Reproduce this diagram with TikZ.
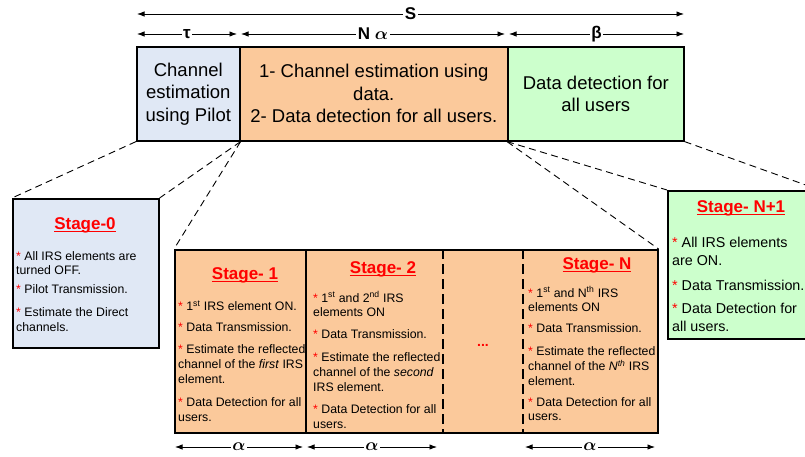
\documentclass[tikz,border=0pt]{standalone}
\usepackage{fontspec}
\setmainfont{Liberation Sans}
\usetikzlibrary{arrows.meta}

\definecolor{pilotblue}{HTML}{E0E8F5}
\definecolor{stageorange}{HTML}{FBC99B}
\definecolor{stagegreen}{HTML}{CCFFCC}
\definecolor{titlered}{HTML}{FF0000}

% red asterisk that opens every bullet
\newcommand\bstar{\textcolor{titlered}{*}}
% stage heading with a low underline
\newcommand\stagehead[1]{\setbox0=\hbox{#1}\rlap{\rule[-3.2pt]{\wd0}{1.3pt}}\box0}
% bold Greek alpha
\newcommand\boldalpha{\mbox{\boldmath$\alpha$}}

\tikzset{
  frame/.style={draw=black, line width=1.6pt, inner sep=0pt, anchor=north west},
  link/.style={dash pattern=on 7pt off 4.5pt, line width=0.9pt},
  span/.style={arrows={Latex[length=7.5pt,width=5.5pt]-Latex[length=7.5pt,width=5.5pt]}, line width=0.9pt},
  dimlabel/.style={fill=white, inner sep=1.5pt, font=\bfseries\fontsize{17}{17}\selectfont},
  alphalabel/.style={fill=white, inner sep=1.5pt, font=\fontsize{18}{18}\selectfont},
  steptitle/.style={anchor=base, inner sep=0pt, text=titlered, font=\bfseries\fontsize{17}{17}\selectfont},
  bodytext/.style={align=left, anchor=north west, inner sep=0pt, font=\fontsize{12.3}{14.7}\selectfont},
  bigbody/.style={align=left, anchor=north west, inner sep=0pt, font=\fontsize{14.3}{18}\selectfont},
  bigtext/.style={align=center, font=\fontsize{18.5}{22.5}\selectfont},
  divider/.style={line width=1.6pt},
  dashdivider/.style={line width=1.7pt, dash pattern=on 10pt off 5pt},
}

\begin{document}
\begin{tikzpicture}[x=1pt, y=-1pt]
\useasboundingbox (0,0) rectangle (805,457);

% ---------- frame of the whole slot ----------
\node[frame, fill=pilotblue, minimum width=103, minimum height=94, bigtext] (pilot) at (136,46)
  {Channel\\estimation\\using Pilot};
\node[frame, fill=stageorange, minimum width=268, minimum height=94, bigtext] (datacol) at (239,46)
  {1- Channel estimation using\\data.\\2- Data detection for all users.};
\node[frame, fill=stagegreen, minimum width=176, minimum height=94, bigtext] (detect) at (507,46)
  {Data detection for\\all users};

% ---------- durations ----------
\coordinate (sL) at (137,14);
\coordinate (sR) at (684,14);
\coordinate (tL) at (137,34);
\coordinate (tR) at (237,34);
\coordinate (nL) at (241,34);
\coordinate (nR) at (505,34);
\coordinate (bL) at (509,34);
\coordinate (bR) at (684,34);
\draw[span] (sL) -- (sR) node[midway, dimlabel] (lblS) {S};
\draw[span] (tL) -- (tR) node[midway, dimlabel] (lblT) {τ};
\draw[span] (nL) -- (nR) node[midway, dimlabel] (lblN) {N \boldalpha};
\draw[span] (bL) -- (bR) node[midway, dimlabel] (lblB) {β};

% ---------- stage boxes ----------
\node[frame, fill=pilotblue, minimum width=146, minimum height=149] (stage0) at (12,198) {};
\node[frame, fill=stageorange, minimum width=483, minimum height=183] (stages) at (174,249) {};
\node[frame, fill=stagegreen, minimum width=151, minimum height=148] (stageN1) at (667,190) {};

% separators inside the orange box
\coordinate (d1t) at (306,249);
\coordinate (d1b) at (306,432);
\coordinate (d2t) at (443,249);
\coordinate (d2b) at (443,432);
\coordinate (d3t) at (523,249);
\coordinate (d3b) at (523,432);
\draw[divider] (d1t) -- (d1b);
\draw[dashdivider] (d2t) -- (d2b);
\draw[dashdivider] (d3t) -- (d3b);

% ---------- zoom lines ----------
\draw[link] (pilot.south west) -- (stage0.north west);
\draw[link] (pilot.south east) -- (stage0.north east);
\draw[link] (pilot.south east) -- (stages.north west);
\draw[link] (detect.south west) -- (stages.north east);
\draw[link] (detect.south west) -- (stageN1.north west);
\draw[link] (detect.south east) -- (stageN1.north east);

% ---------- stage headings ----------
\node[steptitle] (h0) at (85,229) {\stagehead{Stage-0}};
\node[steptitle] (h1) at (245,279) {\stagehead{Stage- 1}};
\node[steptitle] (h2) at (383,273) {\stagehead{Stage- 2}};
\node[steptitle] (hN) at (597,269) {\stagehead{Stage- N}};
\node[steptitle] (hN1) at (741,212) {\stagehead{Stage- N+1}};

% ---------- stage contents ----------
\node[bodytext] (b0) at (16,250)
  {\rule{0pt}{10pt}\bstar{} All IRS elements are\\turned OFF.\\[4pt]
   \bstar{} Pilot Transmission.\\[8.3pt]
   \bstar{} Estimate the Direct\\channels.};

\node[bodytext] (b1) at (178,300.3)
  {\rule{0pt}{10pt}\bstar{} 1\textsuperscript{st} IRS element ON.\\[6.5pt]
   \bstar{} Data Transmission.\\[7.5pt]
   \bstar{} Estimate the reflected\\channel of the \textit{first} IRS\\element.\\[8.5pt]
   \bstar{} Data Detection for all\\users.};

\node[bodytext] (b2) at (313,291.3)
  {\rule{0pt}{10pt}\bstar{} 1\textsuperscript{st} and 2\textsuperscript{nd} IRS\\elements ON\\[7.5pt]
   \bstar{} Data Transmission.\\[8pt]
   \bstar{} Estimate the reflected\\channel of the \textit{second}\\IRS element.\\[8pt]
   \bstar{} Data Detection for all\\users.};

\node[bodytext] (bN) at (528,286.3)
  {\rule{0pt}{10pt}\bstar{} 1\textsuperscript{st} and N\textsuperscript{th} IRS\\elements ON\\[6.5pt]
   \bstar{} Data Transmission.\\[8pt]
   \bstar{} Estimate the reflected\\channel of the \textit{N\textsuperscript{th}} IRS\\element.\\[6.5pt]
   \bstar{} Data Detection for all\\users.};

\node[bigbody] (bN1) at (672,235)
  {\rule{0pt}{12pt}\bstar{} All IRS elements\\are ON.\\[7pt]
   \bstar{} Data Transmission.\\[5pt]
   \bstar{} Data Detection for\\all users.};

\node[text=titlered, font=\bfseries\fontsize{14}{14}\selectfont] (dots) at (483,345) {...};

% ---------- stage lengths ----------
\coordinate (aoneL) at (175,447);
\coordinate (aoneR) at (303,447);
\coordinate (atwoL) at (307,447);
\coordinate (atwoR) at (437,447);
\coordinate (alastL) at (525,447);
\coordinate (alastR) at (655,447);
\draw[span] (aoneL) -- (aoneR) node[midway, alphalabel] (lblAone) {\boldalpha};
\draw[span] (atwoL) -- (atwoR) node[midway, alphalabel] (lblAtwo) {\boldalpha};
\draw[span] (alastL) -- (alastR) node[midway, alphalabel] (lblAlast) {\boldalpha};
\end{tikzpicture}
\end{document}
